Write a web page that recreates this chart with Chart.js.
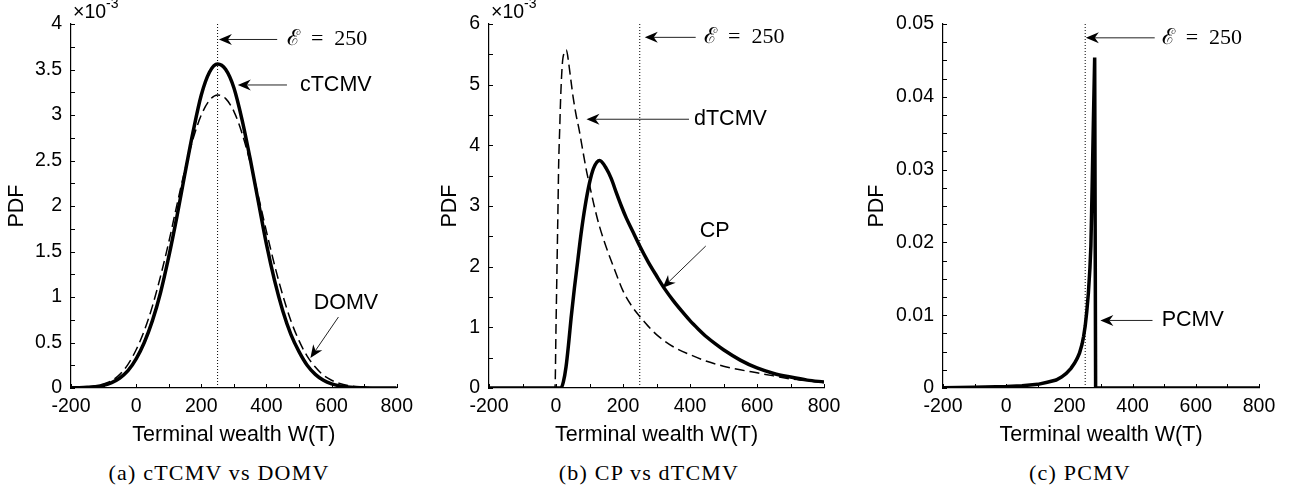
<!DOCTYPE html>
<html>
<head>
<meta charset="utf-8">
<script src="https://cdn.jsdelivr.net/npm/chart.js@4.4.1/dist/chart.umd.min.js"></script>
<style>
body { margin: 0; background: #fff; width: 1293px; height: 492px; overflow: hidden; position: relative; }
canvas { position: absolute; top: 0; }
.cap { position: absolute; top: 460px; width: 320px; line-height: 24px; text-align: center; white-space: nowrap;
  font: 22px "Liberation Serif", "DejaVu Serif", serif; letter-spacing: 1.2px; color: #000; }
</style>
</head>
<body>
<canvas id="chartA" width="420" height="448" style="left:0px"></canvas>
<canvas id="chartB" width="420" height="448" style="left:430px"></canvas>
<canvas id="chartC" width="433" height="448" style="left:860px"></canvas>
<div class="cap" style="left:59px">(a) cTCMV vs DOMV</div>
<div class="cap" style="left:489px">(b) CP vs dTCMV</div>
<div class="cap" style="left:920px">(c) PCMV</div>
<script>
// expected terminal wealth (target)
var expectedWealth = 250;

// (a) cTCMV vs DOMV, PDF values in units of 1e-3
var wealthA = [-200, -175, -150, -125, -100, -75, -50, -25, 0, 25, 50, 75, 100, 125, 150, 175, 200, 225, 250, 275,
	300, 325, 350, 375, 400, 425, 450, 475, 500, 525, 550, 575, 600, 625, 650, 675, 700, 725, 750, 775, 800];
var ctcmvPdf = [0.002, 0.004, 0.008, 0.015, 0.03, 0.06, 0.11, 0.19, 0.32, 0.5, 0.74, 1.05, 1.44, 1.88, 2.36, 2.82, 3.22, 3.47, 3.56, 3.5,
	3.3, 2.95, 2.52, 2.05, 1.58, 1.18, 0.85, 0.59, 0.4, 0.25, 0.15, 0.085, 0.045, 0.022, 0.01, 0.005, 0.002, 0.001, 0, 0, 0];
var domvPdf = [0.003, 0.006, 0.012, 0.025, 0.045, 0.08, 0.15, 0.26, 0.42, 0.63, 0.9, 1.23, 1.6, 2.01, 2.4, 2.74, 3.0, 3.16, 3.22, 3.18,
	3.04, 2.8, 2.48, 2.11, 1.72, 1.35, 1.02, 0.74, 0.52, 0.35, 0.23, 0.14, 0.085, 0.05, 0.028, 0.014, 0.007, 0.003, 0.001, 0, 0];

// (b) CP vs dTCMV, PDF values in units of 1e-3
var wealthCP = [-200, -100, 0, 15, 22, 30, 38, 45, 55, 65, 75, 87, 100, 112, 130, 150, 165, 180, 195, 210, 230, 250,
	275, 300, 325, 350, 375, 400, 425, 450, 475, 500, 550, 600, 650, 700, 750, 800];
var cpPdf = [0, 0, 0, 0, 0.1, 0.35, 0.75, 1.15, 1.65, 2.1, 2.55, 3.0, 3.38, 3.62, 3.75, 3.62, 3.45, 3.22, 3.0, 2.8, 2.57, 2.34,
	2.08, 1.85, 1.63, 1.44, 1.27, 1.11, 0.97, 0.84, 0.73, 0.63, 0.46, 0.33, 0.24, 0.18, 0.13, 0.1];
var wealthDT = [-200, -100, -3, 0, 3, 6, 8, 11, 14, 19, 25, 31, 38, 45, 51, 60, 69, 76, 83, 91,
	100, 115, 130, 150, 175, 200, 225, 250, 275, 300, 350, 400, 450, 500, 550, 600, 650, 700, 750, 800];
var dtcmvPdf = [0, 0, 0, 1.0, 2.0, 3.0, 3.7, 4.26, 4.8, 5.35, 5.53, 5.57, 5.35, 5.05, 4.8, 4.5, 4.26, 4.04, 3.82, 3.58,
	3.35, 2.98, 2.66, 2.32, 1.95, 1.6, 1.36, 1.18, 1.02, 0.88, 0.68, 0.55, 0.44, 0.36, 0.3, 0.25, 0.2, 0.15, 0.12, 0.09];

// (c) PCMV
var wealthPC = [-200, -100, 0, 50, 100, 130, 158, 175, 190, 205, 216, 225, 232, 240, 245, 250, 255, 260, 265, 268,
	272, 276, 280, 283, 400, 600, 800];
var pcmvPdf = [0.00005, 0.0001, 0.0002, 0.0003, 0.0005, 0.0008, 0.0011, 0.0015, 0.002, 0.0027, 0.0034, 0.0041, 0.0048, 0.006, 0.0071, 0.0085, 0.0105, 0.013, 0.0165, 0.0195,
	0.0277, 0.0368, 0.0454, 0, 0, 0, 0];

// arrows + labels, in data units (tail -> tip)
var notesA = [
	{ text: "\u2130\u2002=\u2002250", serif: true, x: 463, y: 3.83, tail: [433, 3.83], tip: [254, 3.83] },
	{ text: "cTCMV", x: 503, y: 3.33, tail: [463, 3.33], tip: [312, 3.33] },
	{ text: "DOMV", x: 545, y: 0.93, tail: [621, 0.78], tip: [535, 0.33] },
];
var notesB = [
	{ text: "\u2130\u2002=\u2002250", serif: true, x: 442, y: 5.78, tail: [417, 5.78], tip: [265, 5.78] },
	{ text: "dTCMV", x: 412, y: 4.43, tail: [397, 4.43], tip: [91, 4.43] },
	{ text: "CP", x: 429, y: 2.58, tail: [447, 2.34], tip: [318, 1.65] },
];
var notesC = [
	{ text: "\u2130\u2002=\u2002250", serif: true, x: 492, y: 0.0481, tail: [470, 0.0481], tip: [252, 0.0481] },
	{ text: "PCMV", x: 492, y: 0.00928, tail: [463, 0.00928], tip: [298, 0.00928] },
];

Chart.defaults.font.family = '"Liberation Sans", Arial, Helvetica, sans-serif';
Chart.defaults.color = "#000";

var sansFont = '"Liberation Sans", Arial, Helvetica, sans-serif';
var serifFont = '"Liberation Serif", "DejaVu Serif", serif';

function points(xs, ys) {
	return xs.map((x, i) => ({ x: x, y: ys[i] }));
}

var notesPlugin = {
	id: "notes",
	afterDatasetsDraw: function (chart, args, opts) {
		var ctx = chart.ctx;
		var xs = chart.scales.x;
		var ys = chart.scales.y;
		var area = chart.chartArea;
		ctx.save();
		// inward tick marks
		ctx.strokeStyle = "#000";
		ctx.lineWidth = 1;
		xs.ticks.forEach((t) => {
			var px = Math.round(xs.getPixelForValue(t.value)) + 0.5;
			ctx.beginPath();
			ctx.moveTo(px, area.bottom);
			ctx.lineTo(px, area.bottom - 4);
			ctx.stroke();
		});
		ys.ticks.forEach((t) => {
			var py = Math.round(ys.getPixelForValue(t.value)) + 0.5;
			ctx.beginPath();
			ctx.moveTo(area.left, py);
			ctx.lineTo(area.left + 4, py);
			ctx.stroke();
		});

		(opts.items || []).forEach((n) => {
			var x0 = xs.getPixelForValue(n.tail[0]);
			var y0 = ys.getPixelForValue(n.tail[1]);
			var x1 = xs.getPixelForValue(n.tip[0]);
			var y1 = ys.getPixelForValue(n.tip[1]);
			var len = Math.hypot(x1 - x0, y1 - y0);
			var dx = (x1 - x0) / len;
			var dy = (y1 - y0) / len;
			var L = 13, W = 5.5, notch = 4;
			ctx.strokeStyle = "#222";
			ctx.lineWidth = 1;
			ctx.beginPath();
			ctx.moveTo(x0, y0);
			ctx.lineTo(x1 - dx * (L - notch), y1 - dy * (L - notch));
			ctx.stroke();
			ctx.fillStyle = "#000";
			ctx.beginPath();
			ctx.moveTo(x1, y1);
			ctx.lineTo(x1 - dx * L - dy * W, y1 - dy * L + dx * W);
			ctx.lineTo(x1 - dx * (L - notch), y1 - dy * (L - notch));
			ctx.lineTo(x1 - dx * L + dy * W, y1 - dy * L - dx * W);
			ctx.closePath();
			ctx.fill();

			ctx.font = n.serif ? "22px " + serifFont : "21.5px " + sansFont;
			ctx.textAlign = "left";
			ctx.textBaseline = "middle";
			ctx.fillText(n.text, xs.getPixelForValue(n.x), ys.getPixelForValue(n.y));
		});

		if (opts.exponent) {
			ctx.textAlign = "left";
			ctx.textBaseline = "alphabetic";
			ctx.font = "19.5px " + sansFont;
			var w = ctx.measureText("\u00d710").width;
			ctx.fillText("\u00d710", area.left + 2, area.top - 6);
			ctx.font = "14px " + sansFont;
			ctx.fillText(opts.exponent, area.left + 2 + w, area.top - 16);
		}
		ctx.restore();
	},
};

function xAxis() {
	return {
		type: "linear",
		min: -200,
		max: 800,
		grid: { display: false, drawTicks: false },
		border: { display: true, color: "#000", width: 1.2 },
		ticks: {
			stepSize: 100,
			autoSkip: false,
			maxRotation: 0,
			padding: 7,
			font: { size: 19.5 },
			callback: (v) => (v % 200 === 0 ? String(v) : ""),
		},
		title: { display: true, text: "Terminal wealth W(T)", font: { size: 21.5 }, padding: 0 },
		afterFit: (s) => {
			s.height = 60;
		},
	};
}

function yAxis(max, step, every, fmt, width) {
	return {
		min: 0,
		max: max,
		grid: { display: false, drawTicks: false },
		border: { display: true, color: "#000", width: 1.2 },
		ticks: {
			stepSize: step,
			autoSkip: false,
			padding: 9,
			font: { size: 19.5 },
			callback: (v) => {
				var k = Math.round(v / step);
				return k % every === 0 ? fmt(k * step) : "";
			},
		},
		title: { display: true, text: "PDF", font: { size: 21.5 }, padding: 0 },
		afterFit: (s) => {
			s.width = width;
		},
	};
}

function solid(xs, ys, smooth) {
	return {
		data: points(xs, ys),
		showLine: true,
		borderColor: "#000",
		borderWidth: 3.5,
		pointRadius: 0,
		fill: false,
		cubicInterpolationMode: smooth ? "monotone" : "default",
		tension: 0,
	};
}

function dashed(xs, ys) {
	return {
		data: points(xs, ys),
		showLine: true,
		borderColor: "#000",
		borderWidth: 1.5,
		borderDash: [10, 5],
		pointRadius: 0,
		fill: false,
		cubicInterpolationMode: "monotone",
	};
}

function dotted(top) {
	return {
		data: [{ x: expectedWealth, y: 0 }, { x: expectedWealth, y: top }],
		showLine: true,
		borderColor: "#000",
		borderWidth: 1,
		borderDash: [1, 2],
		pointRadius: 0,
		fill: false,
	};
}

function makeChart(id, datasets, y, pad, notes, exponent) {
	return new Chart(document.getElementById(id), {
		type: "scatter",
		data: { datasets: datasets },
		options: {
			responsive: false,
			animation: false,
			layout: { padding: pad },
			scales: { x: xAxis(), y: y },
			plugins: {
				legend: { display: false },
				tooltip: { enabled: false },
				notes: { items: notes, exponent: exponent },
			},
		},
		plugins: [notesPlugin],
	});
}

makeChart(
	"chartA",
	[solid(wealthA, ctcmvPdf, true), dashed(wealthA, domvPdf), dotted(4)],
	yAxis(4, 0.25, 2, (v) => String(v), 67),
	{ left: 4, top: 24, right: 22, bottom: 0 },
	notesA,
	"-3"
);

makeChart(
	"chartB",
	[solid(wealthCP, cpPdf, true), dashed(wealthDT, dtcmvPdf), dotted(6)],
	yAxis(6, 0.5, 2, (v) => String(v), 52),
	{ left: 7, top: 24, right: 26, bottom: 0 },
	notesB,
	"-3"
);

makeChart(
	"chartC",
	[solid(wealthPC, pcmvPdf, false), dotted(0.05)],
	yAxis(0.05, 0.0025, 4, (v) => (v === 0 ? "0" : v.toFixed(2)), 79),
	{ left: 4, top: 24, right: 34, bottom: 0 },
	notesC,
	null
);
</script>
</body>
</html>
